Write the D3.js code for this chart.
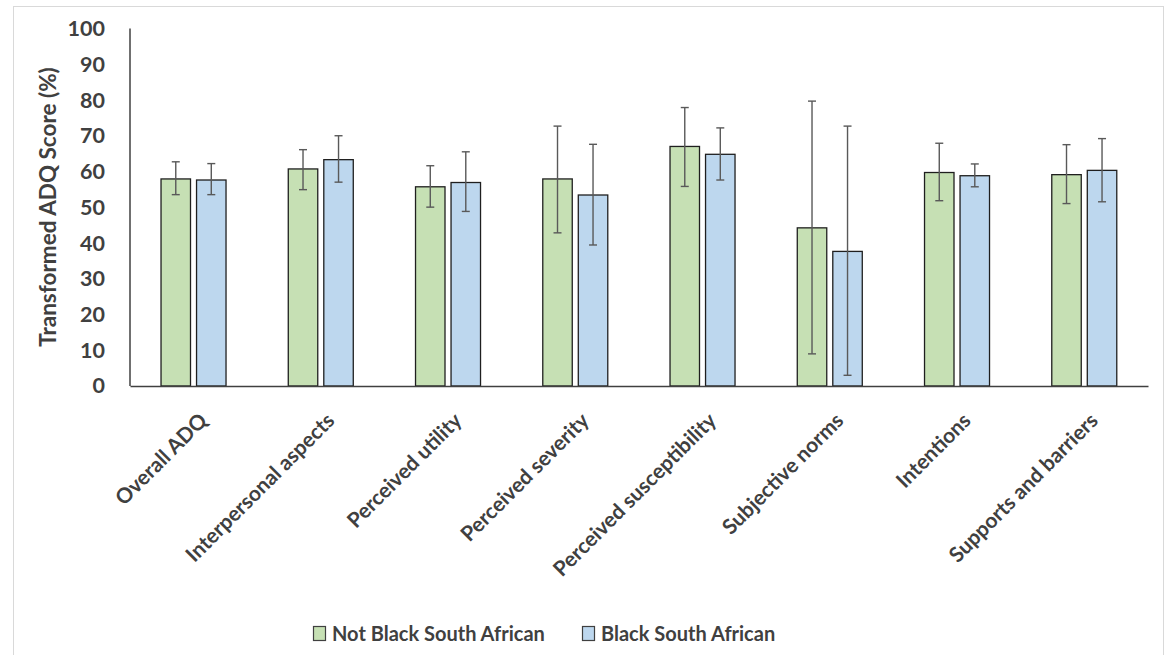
<!DOCTYPE html>
<html>
<head>
<meta charset="utf-8">
<script src="https://cdn.jsdelivr.net/npm/d3@7"></script>
<style>
  html, body { margin: 0; padding: 0; background: #fff; }
  svg { display: block; font-family: Lato, "Open Sans", sans-serif; }
</style>
</head>
<body>
<svg id="chart" width="1166" height="655"></svg>
<script>
const categories = ["Overall ADQ", "Interpersonal aspects", "Perceived utility", "Perceived severity",
  "Perceived susceptibility", "Subjective norms", "Intentions", "Supports and barriers"];
const seriesNames = ["Not Black South African", "Black South African"];
const notBlackMean = [58.0, 60.8, 55.8, 58.0, 67.1, 44.3, 59.8, 59.2];
const notBlackLow  = [53.6, 55.0, 50.1, 42.9, 55.9, 9.0, 51.9, 51.1];
const notBlackHigh = [62.8, 66.2, 61.7, 72.8, 78.0, 79.8, 68.0, 67.6];
const blackMean = [57.7, 63.4, 57.0, 53.5, 64.9, 37.7, 58.9, 60.4];
const blackLow  = [53.6, 57.1, 48.9, 39.5, 57.7, 3.0, 55.8, 51.6];
const blackHigh = [62.3, 70.1, 65.6, 67.7, 72.3, 72.8, 62.2, 69.3];
const yTicks = [0, 10, 20, 30, 40, 50, 60, 70, 80, 90, 100];
const yTitle = "Transformed ADQ Score (%)";

const colors = {"Not Black South African": "#c6e0b4", "Black South African": "#bdd7ee"};

const rows = [];
categories.forEach((c, i) => {
  rows.push({cat: c, series: seriesNames[0], v: notBlackMean[i], lo: notBlackLow[i], hi: notBlackHigh[i]});
  rows.push({cat: c, series: seriesNames[1], v: blackMean[i], lo: blackLow[i], hi: blackHigh[i]});
});

const svg = d3.select("#chart");
const mLeft = 130, mRight = 1148, mTop = 29, mBottom = 386;

// outer border
svg.append("rect").attr("x", 13.5).attr("y", 6.5).attr("width", 1150).attr("height", 680)
  .attr("fill", "none").attr("stroke", "#d9d9d9").attr("stroke-width", 1);

const x = d3.scaleBand().domain(categories).range([mLeft, mRight]).padding(0);
const x1 = d3.scaleBand().domain(seriesNames).range([-32.6, 32.4]).paddingInner(0.17);
const y = d3.scaleLinear().domain([0, 100]).range([mBottom, mTop]);

// y tick labels
const yAxis = d3.axisLeft(y).tickValues(yTicks).tickSize(0).tickPadding(25);
const gy = svg.append("g").attr("transform", `translate(${mLeft},0)`).call(yAxis);
gy.select(".domain").remove();
gy.selectAll("text").attr("font-family", "Lato, sans-serif").attr("font-size", 21.5)
  .attr("font-weight", 700).attr("fill", "#404040");

// bars
svg.append("g").selectAll("rect").data(rows).join("rect")
  .attr("x", d => x(d.cat) + x.bandwidth() / 2 + x1(d.series))
  .attr("y", d => y(d.v))
  .attr("width", x1.bandwidth())
  .attr("height", d => y(0) - y(d.v))
  .attr("fill", d => colors[d.series])
  .attr("stroke", "#1f1f1f").attr("stroke-width", 1.3);

// error bars
const eg = svg.append("g").attr("stroke", "#595959").attr("stroke-width", 1.4);
rows.forEach(d => {
  const cx = x(d.cat) + x.bandwidth() / 2 + x1(d.series) + x1.bandwidth() / 2;
  eg.append("line").attr("x1", cx).attr("x2", cx).attr("y1", y(d.lo)).attr("y2", y(d.hi));
  eg.append("line").attr("x1", cx - 4).attr("x2", cx + 4).attr("y1", y(d.lo)).attr("y2", y(d.lo));
  eg.append("line").attr("x1", cx - 4).attr("x2", cx + 4).attr("y1", y(d.hi)).attr("y2", y(d.hi));
});

// axes lines
svg.append("line").attr("x1", mLeft).attr("x2", mLeft).attr("y1", mTop - 0.5).attr("y2", mBottom)
  .attr("stroke", "#404040").attr("stroke-width", 1.5);
const xAxis = d3.axisBottom(x).tickSize(0).tickFormat("");
const gx = svg.append("g").attr("transform", `translate(0,${mBottom})`).call(xAxis);
gx.select(".domain").attr("stroke", "#404040").attr("stroke-width", 1.5);

// category labels
svg.append("g").selectAll("text").data(categories).join("text")
  .attr("transform", d => `translate(${x(d) + x.bandwidth() / 2 + 15},422) rotate(-45)`)
  .attr("text-anchor", "end")
  .attr("font-size", 21).attr("font-weight", 700).attr("fill", "#404040")
  .text(d => d);

// y title
svg.append("text")
  .attr("transform", `translate(56,207) rotate(-90)`)
  .attr("text-anchor", "middle")
  .attr("font-size", 22.5).attr("font-weight", 700).attr("fill", "#404040")
  .text(yTitle);

// legend
const legendPos = [{x: 313}, {x: 582}];
const lg = svg.append("g");
seriesNames.forEach((s, i) => {
  const g = lg.append("g").attr("transform", `translate(${legendPos[i].x},626)`);
  g.append("rect").attr("x", 0.5).attr("y", 0.5).attr("width", 12).attr("height", 14)
    .attr("fill", colors[s]).attr("stroke", "#404040").attr("stroke-width", 1.2);
  g.append("text").attr("x", 19).attr("y", 14.5)
    .attr("font-size", 20).attr("font-weight", 700).attr("fill", "#404040").text(s);
});
</script>
</body>
</html>
